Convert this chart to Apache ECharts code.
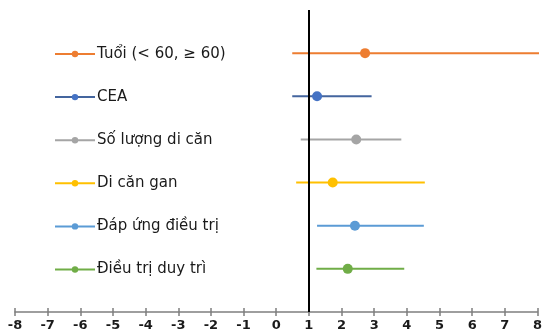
<!DOCTYPE html>
<html><head><meta charset="utf-8">
<script src="https://cdn.jsdelivr.net/npm/echarts@6/dist/echarts.min.js"></script>
<style>html,body{margin:0;padding:0;background:#fff}#c{width:545px;height:332px}</style>
</head><body><div id="c"></div>
<script>
var names = ['Tuổi (< 60, ≥ 60)', 'CEA', 'Số lượng di căn', 'Di căn gan', 'Đáp ứng điều trị', 'Điều trị duy trì'];
var rowPos = [6, 5, 4, 3, 2, 1];
var lows = [0.49, 0.49, 0.75, 0.61, 1.25, 1.23];
var points = [2.72, 1.25, 2.45, 1.73, 2.41, 2.19];
var highs = [8.2, 2.92, 3.83, 4.55, 4.52, 3.92];
var colors = ['#ED7D31', '#4472C4', '#A5A5A5', '#FFC000', '#5B9BD5', '#70AD47'];
var lineColors = ['#ED7D31', '#44659E', '#A5A5A5', '#FFC000', '#5B9BD5', '#70AD47'];
var xTicks = [-8, 8, 1];

var series = names.map(function (n, i) {
  var s = {
    name: n, type: 'line', clip: false,
    symbol: 'circle', symbolSize: 10,
    itemStyle: { color: colors[i] },
    lineStyle: { color: lineColors[i], width: 2 },
    data: [
      { value: [lows[i], rowPos[i]], symbol: 'none' },
      { value: [points[i], rowPos[i]] },
      { value: [highs[i], rowPos[i]], symbol: 'none' }
    ]
  };
  if (i === 0) {
    s.markLine = { silent: true, symbol: 'none', label: { show: false },
      lineStyle: { color: '#000', width: 2, type: 'solid' },
      data: [{ xAxis: 1 }] };
  }
  return s;
});

var chart = echarts.init(document.getElementById('c'));
chart.setOption({
  animation: false,
  textStyle: { fontFamily: '"DejaVu Sans", Arial, sans-serif' },
  grid: { left: 15, right: 5, top: 10, bottom: 20 },
  legend: {
    orient: 'vertical', left: 54, top: 45, padding: 0,
    itemWidth: 40, itemHeight: 8, itemGap: 25.1,
    textStyle: { fontSize: 15, color: '#1a1a1a', padding: [0, 0, 0, -3], lineHeight: 18 },
    data: names
  },
  xAxis: [{
    type: 'value', min: xTicks[0], max: xTicks[1], interval: xTicks[2],
    splitLine: { show: false },
    axisLine: { lineStyle: { color: '#7f7f7f', width: 1.5 } },
    axisTick: { show: true, length: 4, lineStyle: { color: '#7f7f7f', width: 1.5 } },
    axisLabel: { fontSize: 13, fontWeight: 'bold', color: '#1a1a1a', margin: 7 }
  }, {
    type: 'value', position: 'bottom', min: xTicks[0], max: xTicks[1], interval: xTicks[2],
    splitLine: { show: false },
    axisLine: { show: false },
    axisTick: { show: true, inside: true, length: 4, lineStyle: { color: '#7f7f7f', width: 1.5 } },
    axisLabel: { show: false }
  }],
  yAxis: { type: 'value', min: 0, max: 7, show: false },
  series: series
});
</script></body></html>
